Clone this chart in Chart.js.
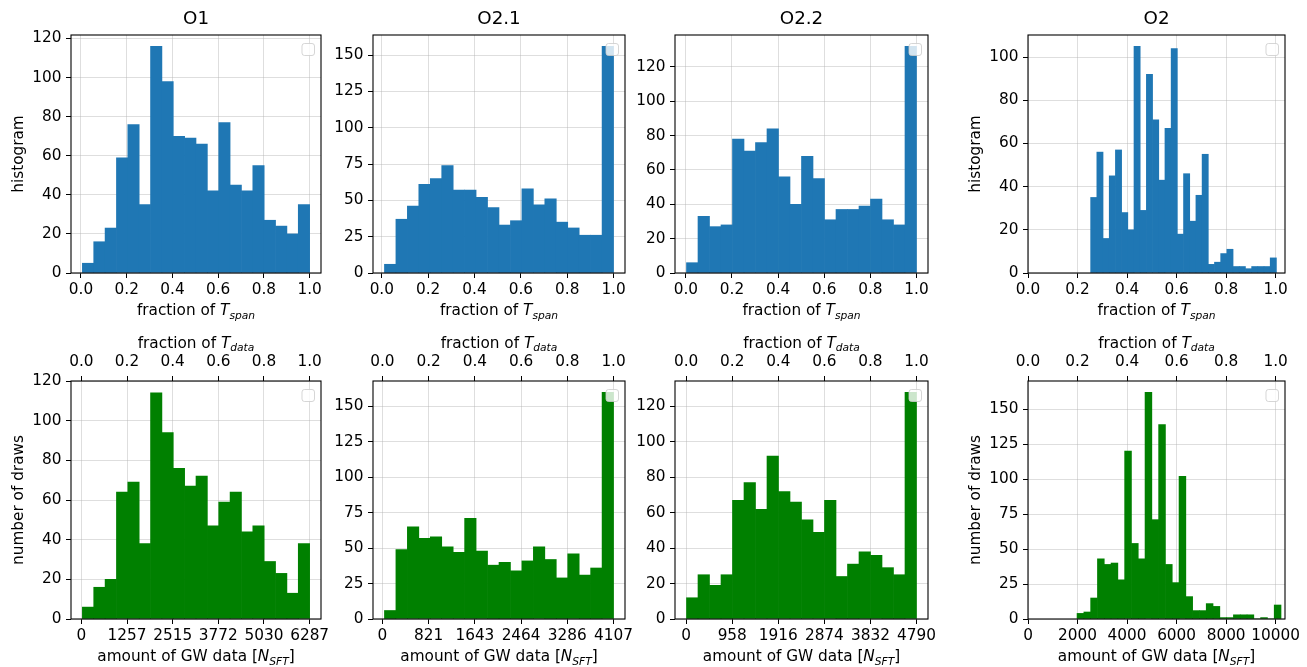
<!DOCTYPE html>
<html><head><meta charset="utf-8">
<script src="https://cdn.jsdelivr.net/npm/chart.js@4.4.1/dist/chart.umd.min.js"></script>
<style>
html,body{margin:0;padding:0;background:#fff;}
#wrap{position:relative;width:1307px;height:667px;overflow:hidden;background:#fff;}
canvas{position:absolute;left:0;top:0;}
</style></head><body><div id="wrap"></div>
<script>
// ---------------- data ----------------
const runs = ['O1', 'O2.1', 'O2.2', 'O2'];
const o1Span  = [5,16,23,59,76,35,116,98,70,69,66,42,77,45,42,55,27,24,20,35];
const o21Span = [6,37,46,61,65,74,57,57,52,45,33,36,58,47,51,35,31,26,26,156];
const o22Span = [6,33,27,28,78,71,76,84,56,40,68,55,31,37,37,39,43,31,28,132];
const o2Span  = [35,56,16,45,57,28,20,105,29,92,71,43,67,104,18,46,24,36,55,4,5,9,11,3,3,2,3,3,3,7];
const o1Draws  = [6,16,20,64,69,38,114,94,76,67,72,47,59,64,44,47,29,23,13,38];
const o21Draws = [6,49,65,57,58,51,47,71,48,38,40,34,41,51,42,29,46,31,36,160];
const o22Draws = [12,25,19,25,67,77,62,92,72,66,56,49,67,24,31,38,36,29,25,128];
const o2Draws  = [4,5,15,43,39,40,28,120,54,43,162,71,139,39,26,102,16,6,6,11,9,1,1,3,3,3,0,1,0,10];
const spanBinLo = [0.006, 0.0115, 0.003, 0.253];
const spanBinHi = [1, 1, 1, 1.003];
const nsftBinLo = [28, 36, 7, 1981];
const nsftBinHi = [6287, 4107, 4790, 10216];
const nsftFull  = [6287, 4107, 4790, 10000];
const nsftTickLabels = [
  ['0','1257','2515','3772','5030','6287'],
  ['0','821','1643','2464','3286','4107'],
  ['0','958','1916','2874','3832','4790'],
  ['0','2000','4000','6000','8000','10000']
];
const fracTicks = [0, 0.2, 0.4, 0.6, 0.8, 1.0];
const fracTickLabels = ['0.0','0.2','0.4','0.6','0.8','1.0'];
const spanYTicks  = [[0,20,40,60,80,100,120],[0,25,50,75,100,125,150],[0,20,40,60,80,100,120],[0,20,40,60,80,100]];
const drawsYTicks = [[0,20,40,60,80,100,120],[0,25,50,75,100,125,150],[0,20,40,60,80,100,120],[0,25,50,75,100,125,150]];
// explicit axis limits (null = automatic 5% margin)
const spanAxisMin = [null, null, null, 0];
const spanAxisMax = [null, null, null, 1.0377];
const nsftAxisMin = [null, null, null, 0];
const nsftAxisMax = [null, null, null, 10377];

const spanCounts  = [o1Span, o21Span, o22Span, o2Span];
const drawsCounts = [o1Draws, o21Draws, o22Draws, o2Draws];

// ---------------- layout / style ----------------
const W = 1307, H = 667;
const colL = [71, 373, 675, 1028], colR = [321, 625, 928, 1285];
const rowT = [35, 381], rowB = [273, 619];
const FONT = '"DejaVu Sans", "Liberation Sans", sans-serif';
const FS = 15.3, SUB = 10.7, TFS = 18.3;
const gridColor = 'rgba(176,176,176,0.42)';
const YAX_W = 60, XAX_H = 30;

const spanLabel = [{t:'fraction of '},{t:'T',it:1},{t:'span',it:1,sub:1}];
const dataLabel = [{t:'fraction of '},{t:'T',it:1},{t:'data',it:1,sub:1}];
const nsftLabel = [{t:'amount of GW data ['},{t:'N',it:1},{t:'SFT',it:1,sub:1},{t:']'}];

function drawRich(ctx, segs, cx, y) {
  const fonts = segs.map(s => (s.it ? 'italic ' : '') + (s.sub ? SUB : FS) + 'px ' + FONT);
  let w = 0;
  segs.forEach((s, i) => { ctx.font = fonts[i]; w += ctx.measureText(s.t).width; });
  let x = cx - w / 2;
  ctx.textAlign = 'left'; ctx.textBaseline = 'alphabetic'; ctx.fillStyle = '#000';
  segs.forEach((s, i) => {
    ctx.font = fonts[i];
    ctx.fillText(s.t, x, y + (s.sub ? 3.5 : 0));
    x += ctx.measureText(s.t).width;
  });
}

function makeDeco(cfg) {
  return {
    id: 'deco',
    afterDraw(chart) {
      const ctx = chart.ctx, a = chart.chartArea;
      const cx = (a.left + a.right) / 2;
      ctx.save();
      ctx.strokeStyle = '#000'; ctx.lineWidth = 1.1;
      ctx.strokeRect(a.left, a.top, a.right - a.left, a.bottom - a.top);
      // empty legend frame
      const lw = 12.5, lh = 12, lx = a.right - 6.5 - lw, ly = a.top + 8.5;
      ctx.beginPath();
      if (ctx.roundRect) ctx.roundRect(lx, ly, lw, lh, 2.5); else ctx.rect(lx, ly, lw, lh);
      ctx.fillStyle = 'rgba(255,255,255,0.8)'; ctx.fill();
      ctx.strokeStyle = 'rgba(204,204,204,0.8)'; ctx.lineWidth = 1; ctx.stroke();
      if (cfg.title) {
        ctx.fillStyle = '#000'; ctx.font = TFS + 'px ' + FONT;
        ctx.textAlign = 'center'; ctx.textBaseline = 'alphabetic';
        ctx.fillText(cfg.title, cx, a.top - 11);
      }
      if (cfg.xLabel) drawRich(ctx, cfg.xLabel, cx, a.bottom + 42);
      if (cfg.xTopLabel) drawRich(ctx, cfg.xTopLabel, cx, a.top - 33.5);
      if (cfg.yLabel) {
        ctx.translate(a.left - 52, (a.top + a.bottom) / 2);
        ctx.rotate(-Math.PI / 2);
        ctx.fillStyle = '#000'; ctx.font = FS + 'px ' + FONT;
        ctx.textAlign = 'center'; ctx.textBaseline = 'middle';
        ctx.fillText(cfg.yLabel, 0, 0);
      }
      ctx.restore();
    }
  };
}

function fixFit(s) {
  if (s.isHorizontal()) s.height = XAX_H; else s.width = YAX_W;
  s.paddingLeft = 0; s.paddingRight = 0; s.paddingTop = 0; s.paddingBottom = 0;
}

function xAxis(pos, min, max, vals, labels, pad, onArea) {
  return {
    type: 'linear', position: pos, min: min, max: max, z: 1, offset: false, bounds: 'data',
    afterBuildTicks: s => { s.ticks = vals.map(v => ({value: v})); },
    afterFit: fixFit,
    ticks: {
      callback: (v, i) => labels[i], autoSkip: false, maxRotation: 0, minRotation: 0,
      padding: pad, color: '#000', font: {family: FONT, size: FS}
    },
    grid: {display: true, offset: false, drawOnChartArea: onArea, color: gridColor, lineWidth: 1,
           tickColor: '#000', tickLength: 5, tickWidth: 1},
    border: {display: false}
  };
}

function makeChart(opt) {
  const cv = document.createElement('canvas');
  cv.width = W; cv.height = H;
  cv.style.width = W + 'px'; cv.style.height = H + 'px';
  document.getElementById('wrap').appendChild(cv);
  const n = opt.counts.length;
  const bw = (opt.hi - opt.lo) / n;
  const pts = opt.counts.map((c, i) => ({x: opt.lo + (i + 0.5) * bw, y: c}));
  const yMax = Math.max(Math.max(...opt.counts) * 1.05, opt.yTicks[opt.yTicks.length - 1]);
  const scales = {
    x: xAxis('bottom', opt.xmin, opt.xmax, opt.xVals, opt.xLabels, 3, true),
    y: {
      type: 'linear', position: 'left', min: 0, max: yMax, z: 1, offset: false,
      afterBuildTicks: s => { s.ticks = opt.yTicks.map(v => ({value: v})); },
      afterFit: fixFit,
      ticks: {callback: v => String(v), padding: 4.5, color: '#000', font: {family: FONT, size: FS}, autoSkip: false},
      grid: {color: gridColor, lineWidth: 1, tickColor: '#000', tickLength: 5, tickWidth: 1},
      border: {display: false}
    }
  };
  let padTop = opt.box[1];
  if (opt.top) {
    scales.xt = xAxis('top', opt.top.min, opt.top.max, fracTicks, fracTickLabels, 5, false);
    padTop -= XAX_H;
  }
  new Chart(cv, {
    type: 'bar',
    data: {datasets: [{
      data: pts, backgroundColor: opt.color, borderWidth: 0,
      barPercentage: 1, categoryPercentage: 1, xAxisID: 'x', yAxisID: 'y'
    }]},
    options: {
      responsive: false, animation: false, devicePixelRatio: 1,
      layout: {padding: {left: opt.box[0] - YAX_W, top: padTop, right: W - opt.box[2], bottom: H - opt.box[3] - XAX_H}},
      plugins: {legend: {display: false}, title: {display: false}, tooltip: {enabled: false}},
      scales: scales
    },
    plugins: [makeDeco(opt.deco)]
  });
}

function lim(lo, hi, mn, mx) {
  const r = hi - lo;
  return [mn === null ? lo - 0.05 * r : mn, mx === null ? hi + 0.05 * r : mx];
}

for (let c = 0; c < 4; c++) {
  // top row: fraction of T_span
  const [smin, smax] = lim(spanBinLo[c], spanBinHi[c], spanAxisMin[c], spanAxisMax[c]);
  makeChart({
    counts: spanCounts[c], lo: spanBinLo[c], hi: spanBinHi[c], color: '#1f77b4',
    xmin: smin, xmax: smax, xVals: fracTicks, xLabels: fracTickLabels,
    yTicks: spanYTicks[c], box: [colL[c], rowT[0], colR[c], rowB[0]],
    deco: {title: runs[c], xLabel: spanLabel, yLabel: (c === 0 || c === 3) ? 'histogram' : null}
  });
  // bottom row: amount of GW data
  const [nmin, nmax] = lim(nsftBinLo[c], nsftBinHi[c], nsftAxisMin[c], nsftAxisMax[c]);
  const full = nsftFull[c];
  makeChart({
    counts: drawsCounts[c], lo: nsftBinLo[c], hi: nsftBinHi[c], color: '#008000',
    xmin: nmin, xmax: nmax, xVals: fracTicks.map(f => f * full), xLabels: nsftTickLabels[c],
    yTicks: drawsYTicks[c], box: [colL[c], rowT[1], colR[c], rowB[1]],
    top: {min: nmin / full, max: nmax / full},
    deco: {xLabel: nsftLabel, xTopLabel: dataLabel, yLabel: (c === 0 || c === 3) ? 'number of draws' : null}
  });
}
</script>
</body></html>
